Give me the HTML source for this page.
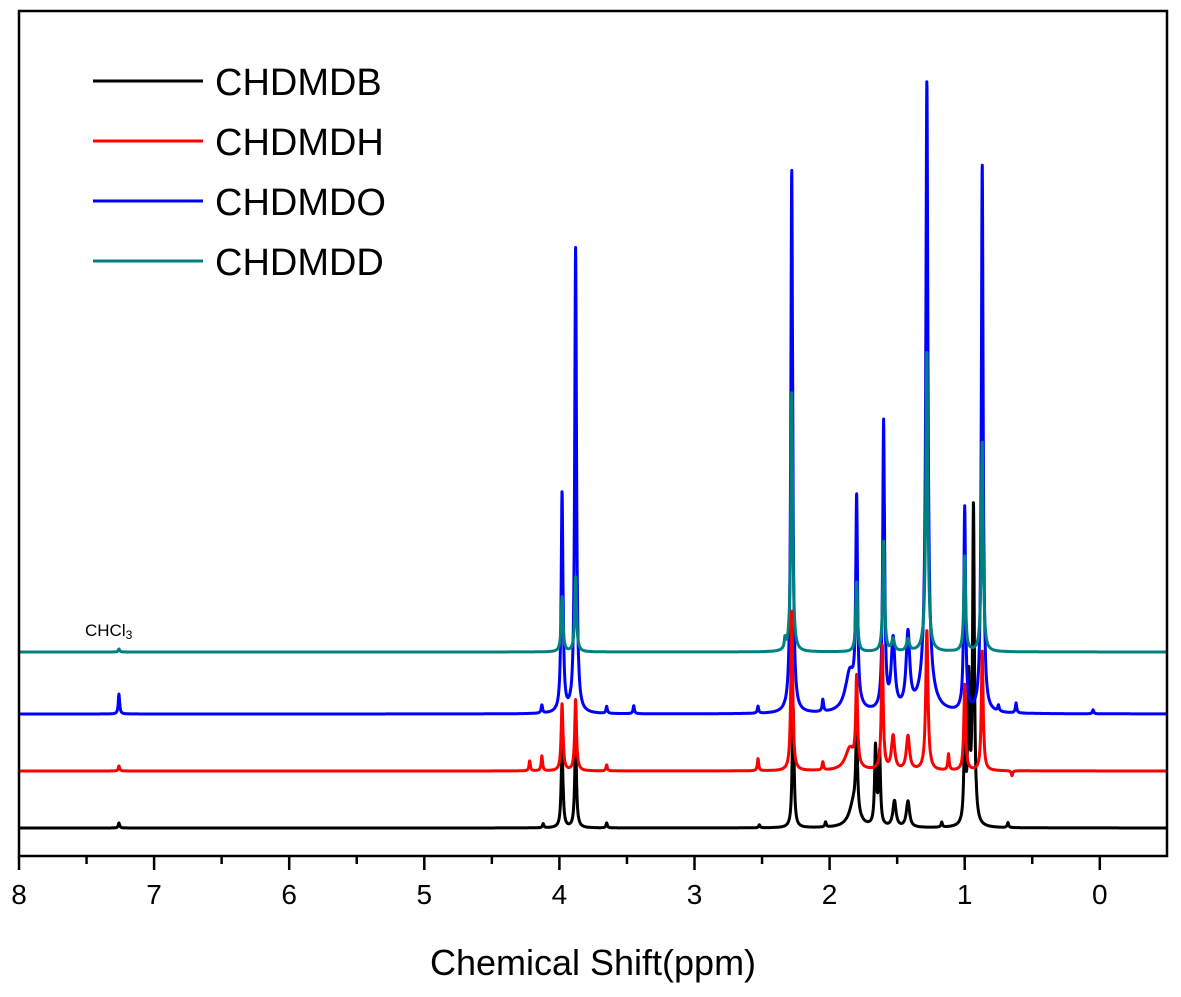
<!DOCTYPE html>
<html><head><meta charset="utf-8"><style>
html,body{margin:0;padding:0;background:#fff;}
svg{display:block;font-family:"Liberation Sans",Arial,sans-serif;}
</style></head><body>
<svg id="chart" width="1181" height="997" viewBox="0 0 1181 997" xmlns="http://www.w3.org/2000/svg">
<g id="series"></g>
<rect x="19" y="11" width="1148" height="845" fill="none" stroke="#000" stroke-width="2.5"/>
<g id="ticks"></g>
<text x="593" y="975" font-size="36" text-anchor="middle">Chemical Shift(ppm)</text>
<text x="85" y="636" font-size="17">CHCl<tspan font-size="12" dy="3">3</tspan></text>
<g id="legend"></g>
</svg>
<script>
const seriesNames = ["CHDMDB","CHDMDH","CHDMDO","CHDMDD"];
const seriesColors = ["#000000","#ff0000","#0000ff","#008080"];
const baselines = [0, 57, 114, 176]; // stacked offsets (intensity units)
// peak positions (ppm), heights, widths (ppm) per spectrum
const peaksB = [7.26,4.12,3.98,3.88,3.65,2.52,2.27,2.03,1.82,1.80,1.66,1.63,1.52,1.42,1.17,1.00,0.97,0.935,0.68];
const heightsB = [5,4,80,88,5,3,120,5,25,80,78,72,26,26,5,86,140,318,5];
const widthsB = [.006,.006,.008,.008,.006,.006,.008,.006,.04,.008,.008,.008,.014,.014,.006,.008,.008,.008,.006];
const peaksH = [7.26,4.22,4.13,3.98,3.88,3.65,2.53,2.28,2.05,1.85,1.80,1.61,1.53,1.42,1.28,1.12,1.00,0.87,0.65];
const heightsH = [5,10,15,67,71,6,12,160,8,22,88,125,34,34,140,16,86,120,-5];
const widthsH = [.006,.006,.006,.008,.008,.006,.006,.008,.006,.04,.008,.008,.014,.014,.01,.006,.008,.008,.006];
const peaksO = [7.26,4.13,3.98,3.88,3.65,3.45,2.53,2.28,2.05,1.85,1.80,1.60,1.53,1.42,1.28,1.28,1.00,0.87,0.75,0.62,0.05];
const heightsO = [20,8,220,465,7,8,7,545,12,40,204,288,70,75,40,592,204,549,6,10,4];
const widthsO = [.006,.006,.008,.008,.006,.006,.006,.008,.006,.04,.008,.008,.016,.016,.05,.009,.008,.008,.006,.006,.006];
const peaksD = [7.26,3.98,3.88,2.33,2.28,1.80,1.60,1.53,1.42,1.28,1.00,0.87];
const heightsD = [3,55,75,10,260,70,110,12,12,300,95,210];
const widthsD = [.006,.008,.008,.006,.008,.008,.008,.012,.012,.009,.008,.008];
const xTicks = [8,7,6,5,4,3,2,1,0];
const xMinor = [7.5,6.5,5.5,4.5,3.5,2.5,1.5,0.5];

const X0=19, PX=135.1, Y0=828;
function xScale(p){return X0+(8-p)*PX;}
function yScale(v){return Y0-v;}
const NS="http://www.w3.org/2000/svg";
function mk(tag,attrs,parent){const e=document.createElementNS(NS,tag);for(const k in attrs)e.setAttribute(k,attrs[k]);parent.appendChild(e);return e;}

const allPeaks=[peaksB,peaksH,peaksO,peaksD], allHeights=[heightsB,heightsH,heightsO,heightsD], allWidths=[widthsB,widthsH,widthsO,widthsD];
const g=document.getElementById('series');
const order=[0,2,3,1];
for(const s of order){
  const P=allPeaks[s],H=allHeights[s],W=allWidths[s];
  let d="";
  for(let p=8.5;p>=-0.5;p-=0.0015){
    let v=baselines[s];
    for(let i=0;i<P.length;i++){const dx=(p-P[i])/W[i];v+=H[i]/(1+dx*dx);}
    const x=xScale(p); if(x<X0||x>1167)continue;
    d+=(d?"L":"M")+x.toFixed(1)+","+yScale(v).toFixed(1);
  }
  const path=mk('path',{d:d,fill:'none',stroke:seriesColors[s],'stroke-width':3,'stroke-linejoin':'round'},g);
  
  
}
const t=document.getElementById('ticks');
for(const v of xTicks){
  const l=mk('line',{x1:xScale(v),x2:xScale(v),y1:856,y2:870,stroke:'#000','stroke-width':2.5},t);
  
  
  const tx=mk('text',{x:xScale(v),y:904,'font-size':28,'text-anchor':'middle'},t);
  tx.textContent=v;
  
  
}
for(const v of xMinor){
  const l=mk('line',{x1:xScale(v),x2:xScale(v),y1:856,y2:864,stroke:'#000','stroke-width':2.5},t);
  
  
}
const lg=document.getElementById('legend');
for(let i=0;i<4;i++){
  const y=81+i*60;
  const l=mk('line',{x1:93,x2:203,y1:y,y2:y,stroke:seriesColors[i],'stroke-width':3},lg);
  
  
  const tx=mk('text',{x:215,y:y+14,'font-size':38},lg);
  tx.textContent=seriesNames[i];
  
  
}
</script>
</body></html>
